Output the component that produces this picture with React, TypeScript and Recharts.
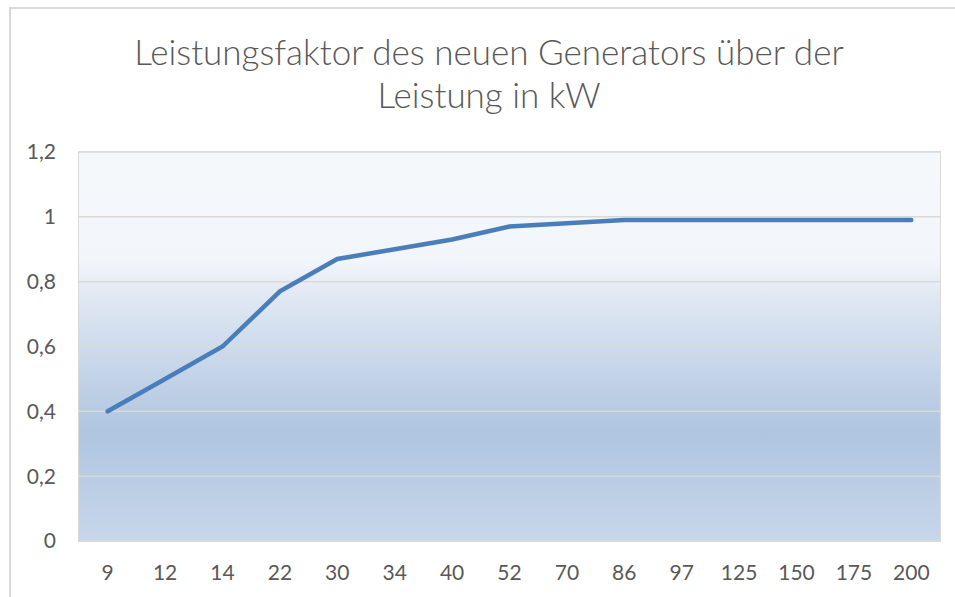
import { CartesianGrid, Line, LineChart, XAxis, YAxis } from "recharts";

const leistung = ["9", "12", "14", "22", "30", "34", "40", "52", "70", "86", "97", "125", "150", "175", "200"];
const faktor = [0.4, 0.5, 0.6, 0.77, 0.87, 0.9, 0.93, 0.97, 0.98, 0.99, 0.99, 0.99, 0.99, 0.99, 0.99];
const yTicks = [0, 0.2, 0.4, 0.6, 0.8, 1, 1.2];

const data = leistung.map((kw, i) => ({ kw, pf: faktor[i] }));

const FONT = "Lato, 'Open Sans', sans-serif";
const TEXT = "#595959";
const GRID = "#d9d9d9";

export default function App() {
  return (
    <div style={{ position: "absolute", left: 0, top: 0, width: 955, height: 597, background: "#fff", overflow: "hidden", fontFamily: FONT }}>
      {/* outer chart frame */}
      <div style={{ position: "absolute", left: 9, top: 7, width: 960, height: 600, borderLeft: `2px solid ${GRID}`, borderTop: `2px solid ${GRID}` }} />

      <div style={{ position: "absolute", left: 0, top: 30, width: 978, textAlign: "center", color: TEXT, fontSize: 35, lineHeight: "43px", fontWeight: 300 }}>
        Leistungsfaktor des neuen Generators über der
        <br />
        Leistung in kW
      </div>

      <LineChart width={955} height={597} data={data} margin={{ top: 152, right: 15, bottom: 26, left: 0 }} style={{ position: "absolute", left: 0, top: 0 }}>
        <defs>
          <linearGradient id="plotBg" x1="0" y1="0" x2="0" y2="1">
            <stop offset="0%" stopColor="#f5f8fb" />
            <stop offset="28%" stopColor="#f2f5fa" />
            <stop offset="38%" stopColor="#dfe7f2" />
            <stop offset="72%" stopColor="#afc5e0" />
            <stop offset="100%" stopColor="#c7d7ea" />
          </linearGradient>
        </defs>
        <CartesianGrid vertical={false} stroke={GRID} strokeWidth={1.5} fill="url(#plotBg)" fillOpacity={1} />
        <XAxis
          dataKey="kw"
          height={30}
          padding={{ left: 28.7, right: 28.7 }}
          axisLine={{ stroke: GRID, strokeWidth: 1.5 }}
          tickLine={false}
          tickSize={0}
          tickMargin={24}
          interval={0}
          tick={{ fill: TEXT, fontSize: 21, fontFamily: FONT }}
        />
        <YAxis
          domain={[0, 1.2]}
          ticks={yTicks}
          width={79}
          axisLine={false}
          tickLine={false}
          tickSize={0}
          tickMargin={23}
          tickFormatter={(v: number) => String(v).replace(".", ",")}
          tick={{ fill: TEXT, fontSize: 21, fontFamily: FONT }}
        />
        <Line
          type="linear"
          dataKey="pf"
          stroke="#4a7ebb"
          strokeWidth={4.5}
          strokeLinecap="round"
          dot={false}
          activeDot={false}
          isAnimationActive={false}
        />
      </LineChart>

      {/* plot area border */}
      <div style={{ position: "absolute", left: 78, top: 151, width: 861, height: 389, border: `1.5px solid ${GRID}`, pointerEvents: "none" }} />
    </div>
  );
}
